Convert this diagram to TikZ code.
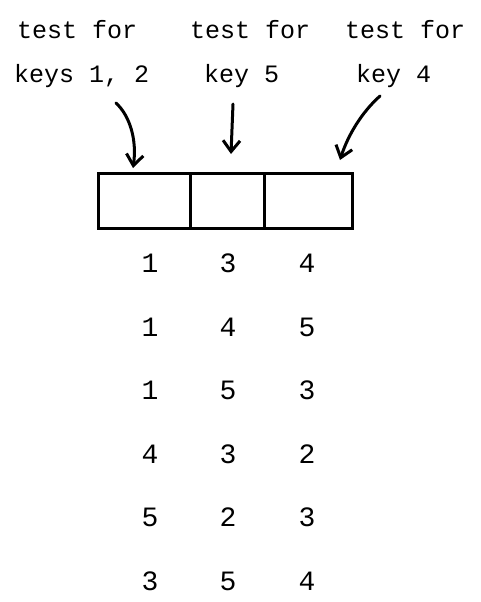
\documentclass[tikz,border=0pt]{standalone}
\usepackage{fontspec}
\setmonofont{Liberation Mono}
\usetikzlibrary{arrows.meta}
\begin{document}
\begin{tikzpicture}[x=1pt,y=-1pt,
  label/.style={font=\ttfamily\fontsize{25}{25}\selectfont, anchor=base west, inner sep=0pt},
  digit/.style={font=\ttfamily\fontsize{28}{28}\selectfont, inner sep=0pt},
  pointer/.style={line width=3pt, line cap=round, -{Straight Barb[length=11pt,width=17pt,line width=3pt]}},
  cell/.style={draw, line width=3pt, minimum height=55pt, inner sep=0pt}]
\useasboundingbox (0,0) rectangle (480,602);
% captions above the record
\node[label] (t1a) at (17,38) {test for};
\node[label] (t1b) at (14,82) {keys 1,~2};
\node[label] (t2a) at (190,38) {test for};
\node[label] (t2b) at (204,82) {key 5};
\node[label] (t3a) at (345,38) {test for};
\node[label] (t3b) at (356,82) {key 4};
% the three-field record
\node[cell, minimum width=92pt, anchor=north west] (f1) at (97,172) {};
\node[cell, minimum width=74pt, anchor=north west] (f2) at (189,172) {};
\node[cell, minimum width=88pt, anchor=north west] (f3) at (263,172) {};
% pointers into the fields
\coordinate (s1) at (116,103);
\coordinate (s2) at (233,104);
\coordinate (s3) at (380,96);
\coordinate (e1) at (133,168);
\coordinate (e2) at (231,154);
\coordinate (e3) at (340,160);
\draw[pointer] (s1) .. controls (130,116) and (137,140) .. (e1);
\draw[pointer] (s2) -- (e2);
\draw[pointer] (s3) .. controls (362,112) and (348,135) .. (e3);
% key orderings
\foreach \a/\b/\c [count=\r] in {1/3/4, 1/4/5, 1/5/3, 4/3/2, 5/2/3, 3/5/4} {
  \node[digit] (r\r a) at (150, 200+63.5*\r) {\a};
  \node[digit] (r\r b) at (228, 200+63.5*\r) {\b};
  \node[digit] (r\r c) at (307, 200+63.5*\r) {\c};
}
\end{tikzpicture}
\end{document}
